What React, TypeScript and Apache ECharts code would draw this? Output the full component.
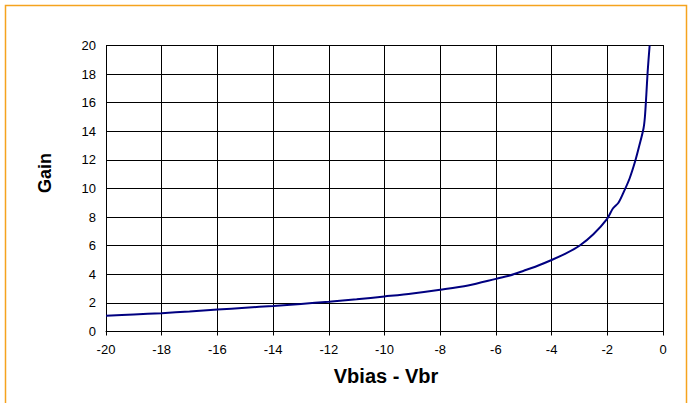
import React, { useEffect, useRef } from "react";
import * as echarts from "echarts";

const xValues = [-20, -19, -18, -17, -16, -15, -14, -13, -12, -11, -10, -9, -8, -7, -6, -5.5, -5, -4.5, -4, -3.5, -3, -2.5, -2, -1.8, -1.6, -1.4, -1.2, -1, -0.85, -0.7, -0.65, -0.6, -0.55, -0.48];
const gainValues = [1.1, 1.19, 1.28, 1.4, 1.53, 1.66, 1.79, 1.93, 2.08, 2.25, 2.45, 2.66, 2.92, 3.22, 3.68, 3.92, 4.25, 4.6, 5.0, 5.45, 6.0, 6.8, 7.9, 8.6, 9.0, 9.8, 10.7, 11.9, 13.0, 14.2, 15.0, 16.5, 18.2, 20];
const xTicks = [-20, -18, -16, -14, -12, -10, -8, -6, -4, -2, 0];
const yTicks = [0, 2, 4, 6, 8, 10, 12, 14, 16, 18, 20];
const xTitle = "Vbias - Vbr";
const yTitle = "Gain";

const FONT = "Liberation Sans, Arial, sans-serif";

export default function App() {
  const ref = useRef<HTMLDivElement>(null);
  useEffect(() => {
    const chart = echarts.init(ref.current!, null, { renderer: "svg" });
    const data = xValues.map((x, i) => [x, gainValues[i]]);
    chart.setOption({
      animation: false,
      graphic: [
        {
          type: "rect",
          shape: { x: 5.5, y: 5.5, width: 681, height: 420 },
          style: { fill: "#fff", stroke: "#F5A31E", lineWidth: 1.5 },
          z: -10,
        },
        {
          type: "text",
          x: 386,
          y: 376,
          style: {
            text: xTitle,
            font: `bold 20px ${FONT}`,
            fill: "#000",
            align: "center",
            verticalAlign: "middle",
          },
        },
        {
          type: "text",
          x: 45,
          y: 173,
          rotation: Math.PI / 2,
          style: {
            text: yTitle,
            font: `bold 18px ${FONT}`,
            fill: "#000",
            align: "center",
            verticalAlign: "middle",
          },
        },
      ],
      grid: { left: 106, right: 31, top: 45.5, bottom: 71.5 },
      xAxis: {
        type: "value",
        min: xTicks[0],
        max: xTicks[xTicks.length - 1],
        interval: 2,
        axisLine: { lineStyle: { color: "#000", width: 1 } },
        axisTick: { show: true, length: 4, lineStyle: { color: "#000" } },
        axisLabel: { fontFamily: FONT, fontSize: 13, color: "#000", margin: 11 },
        splitLine: { show: true, lineStyle: { color: "#000", width: 1 } },
      },
      yAxis: {
        type: "value",
        min: yTicks[0],
        max: yTicks[yTicks.length - 1],
        interval: 2,
        axisLine: { show: true, lineStyle: { color: "#000", width: 1 } },
        axisTick: { show: true, length: 4, lineStyle: { color: "#000" } },
        axisLabel: { fontFamily: FONT, fontSize: 13, color: "#000", margin: 10 },
        splitLine: { show: true, lineStyle: { color: "#000", width: 1 } },
      },
      series: [
        {
          type: "line",
          data,
          showSymbol: false,
          smooth: 0.3,
          lineStyle: { color: "#000080", width: 2 },
          clip: true,
        },
      ],
    });
    return () => chart.dispose();
  }, []);
  return (
    <div
      ref={ref}
      style={{ position: "absolute", left: 0, top: 0, width: 694, height: 403, background: "#fff" }}
    />
  );
}
